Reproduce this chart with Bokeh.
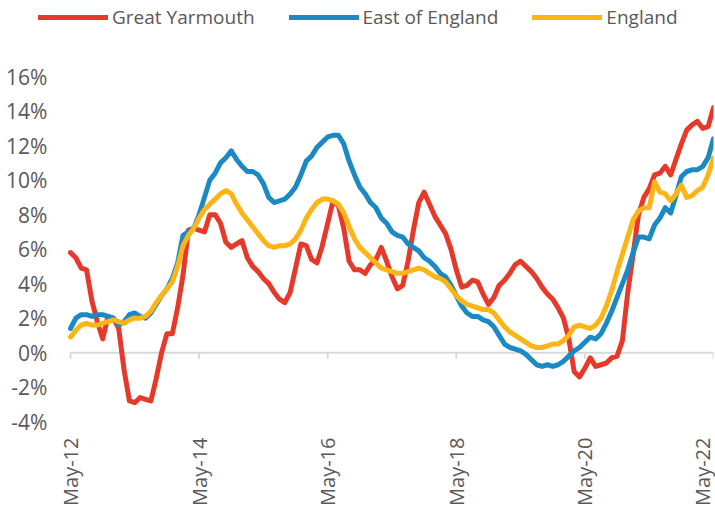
import math
from bokeh.plotting import figure
from bokeh.models import Range1d, FixedTicker, Legend, LegendItem
from bokeh.core.properties import value
from bokeh.embed import file_html
from bokeh.resources import INLINE

# Monthly values, May-12 .. May-22 (annual % change)
great_yarmouth = [
    5.8, 5.5, 4.9, 4.8, 3.0, 1.8, 0.8, 2.1, 2.0, 1.4,
    -1.0, -2.8, -2.9, -2.6, -2.7, -2.8, -1.5, 0.0, 1.1, 1.1,
    2.6, 4.5, 7.1, 7.2, 7.1, 7.0, 8.0, 8.0, 7.5, 6.4,
    6.1, 6.3, 6.5, 5.5, 5.0, 4.7, 4.3, 4.0, 3.5, 3.1,
    2.9, 3.5, 4.9, 6.3, 6.2, 5.4, 5.2, 6.2, 7.5, 8.8,
    8.5, 7.2, 5.3, 4.8, 4.8, 4.6, 5.1, 5.4, 6.1, 5.3,
    4.4, 3.7, 3.9, 5.3, 7.1, 8.7, 9.3, 8.6, 7.9, 7.4,
    6.9, 6.0, 4.8, 3.8, 3.9, 4.2, 4.1, 3.4, 2.8, 3.2,
    3.9, 4.2, 4.6, 5.1, 5.3, 5.0, 4.7, 4.3, 3.8, 3.4,
    3.1, 2.6, 2.0, 0.8, -1.1, -1.4, -0.9, -0.3, -0.8, -0.7,
    -0.6, -0.3, -0.2, 0.7, 3.5, 5.7, 8.0, 9.0, 9.5, 10.3,
    10.4, 10.8, 10.3, 11.2, 12.1, 12.9, 13.2, 13.4, 13.0, 13.1,
    14.2,
]
east_of_england = [
    1.4, 2.0, 2.2, 2.2, 2.1, 2.2, 2.2, 2.1, 2.0, 1.6,
    1.8, 2.2, 2.3, 2.1, 2.0, 2.3, 2.8, 3.3, 3.7, 4.3,
    5.2, 6.8, 7.0, 7.2, 8.0, 9.0, 10.0, 10.4, 11.0, 11.3,
    11.7, 11.2, 10.8, 10.5, 10.5, 10.3, 9.8, 9.0, 8.7, 8.8,
    8.9, 9.2, 9.6, 10.3, 11.1, 11.4, 11.9, 12.2, 12.5, 12.6,
    12.6, 12.1, 11.1, 10.3, 9.6, 9.2, 8.7, 8.4, 7.8, 7.5,
    7.0, 6.8, 6.7, 6.3, 6.1, 5.9, 5.5, 5.3, 5.0, 4.6,
    4.4, 3.9, 3.3, 2.7, 2.3, 2.1, 2.1, 1.9, 1.8, 1.5,
    1.0, 0.5, 0.3, 0.2, 0.1, -0.1, -0.4, -0.7, -0.8, -0.7,
    -0.8, -0.7, -0.5, -0.2, 0.1, 0.3, 0.6, 0.9, 0.8, 1.1,
    1.7, 2.4, 3.2, 4.0, 4.8, 5.8, 6.7, 6.7, 6.6, 7.4,
    7.8, 8.4, 8.1, 9.1, 10.2, 10.5, 10.6, 10.6, 10.8, 11.3,
    12.4,
]
england = [
    0.9, 1.3, 1.6, 1.7, 1.6, 1.6, 1.7, 1.8, 1.9, 1.8,
    1.7, 1.9, 2.0, 2.0, 2.1, 2.4, 2.9, 3.3, 3.7, 4.1,
    5.0, 6.2, 6.8, 7.2, 7.8, 8.3, 8.6, 8.9, 9.2, 9.4,
    9.2, 8.6, 8.1, 7.7, 7.3, 6.9, 6.5, 6.2, 6.1, 6.2,
    6.2, 6.3, 6.6, 7.1, 7.8, 8.3, 8.7, 8.9, 8.9, 8.8,
    8.6, 8.1, 7.3, 6.6, 6.1, 5.8, 5.5, 5.2, 4.9, 4.8,
    4.7, 4.6, 4.6, 4.7, 4.8, 4.9, 4.8, 4.6, 4.4, 4.3,
    4.1, 3.7, 3.3, 3.0, 2.8, 2.7, 2.6, 2.5, 2.5, 2.3,
    1.9, 1.5, 1.2, 1.0, 0.8, 0.6, 0.4, 0.3, 0.3, 0.4,
    0.5, 0.5, 0.7, 1.0, 1.5, 1.6, 1.5, 1.4, 1.6, 2.0,
    2.7, 3.6, 4.7, 5.7, 6.7, 7.7, 8.2, 8.4, 8.4, 9.9,
    9.3, 9.2, 8.8, 9.2, 9.7, 9.0, 9.1, 9.4, 9.6, 10.3,
    11.3,
]
month_index = list(range(len(great_yarmouth)))
series_names = ["Great Yarmouth", "East of England", "England"]
tick_months = [0, 24, 48, 72, 96, 120]
tick_labels = ["May-12", "May-14", "May-16", "May-18", "May-20", "May-22"]
y_ticks = [-4, -2, 0, 2, 4, 6, 8, 10, 12, 14, 16]
y_tick_labels = [f"{t}%" for t in y_ticks]

FONT = "Open Sans"
TXT = "#595959"
AXIS_GREY = "#D9D9D9"
COLORS = ["#E6392A", "#1B8AC4", "#FDB515"]
TICK_LEN = 0.35   # length of the small tick marks below the zero line (data units)
Y_TOP = 20.41     # headroom above 16% that holds the legend
Y_BOTTOM = -4.8   # room below -4% so that its label is not clipped
X_START = -13.06  # left room (in months) that holds the percentage labels and legend

p = figure(width=715, height=513, output_backend="svg", toolbar_location=None,
           x_range=Range1d(X_START, 120), y_range=Range1d(Y_BOTTOM, Y_TOP),
           min_border_left=0, min_border_right=2, min_border_top=0, min_border_bottom=78)
p.outline_line_color = None
p.xgrid.visible = False
p.ygrid.visible = False
p.yaxis.visible = False

# zero line with small ticks
first, last = month_index[0], month_index[-1]
p.line(x=[first, last], y=[0, 0], line_color=AXIS_GREY, line_width=2)
p.segment(x0=tick_months, y0=[0] * len(tick_months), x1=tick_months,
          y1=[-TICK_LEN] * len(tick_months), line_color=AXIS_GREY, line_width=2)

# percentage labels, right-aligned just left of the first month
p.text(x=[first] * len(y_ticks), y=y_ticks, text=y_tick_labels, x_offset=-23,
       text_align="right", text_baseline="middle", text_color=TXT,
       text_font=value(FONT), text_font_size="21px")

renderers = []
for vals, col in zip([great_yarmouth, east_of_england, england], COLORS):
    renderers.append(p.line(month_index, vals, line_color=col, line_width=5,
                            line_join="round", line_cap="round"))

xa = p.xaxis[0]
xa.ticker = FixedTicker(ticks=tick_months)
xa.major_label_overrides = {t: l for t, l in zip(tick_months, tick_labels)}
xa.axis_line_color = None
xa.major_tick_line_color = None
xa.major_tick_out = 0
xa.major_tick_in = 0
xa.minor_tick_line_color = None
xa.major_label_orientation = math.pi / 2
xa.major_label_text_font = FONT
xa.major_label_text_font_size = "20px"
xa.major_label_text_color = TXT
xa.major_label_standoff = 2

legend = Legend(items=[LegendItem(label=n, renderers=[r]) for n, r in zip(series_names, renderers)],
                orientation="horizontal", location=(38, 405),
                label_text_font=FONT, label_text_font_size="19px", label_text_color=TXT,
                glyph_width=70, glyph_height=20, label_standoff=4, spacing=34,
                padding=0, margin=0, border_line_color=None, background_fill_alpha=0)
p.add_layout(legend, "center")

open("out.html", "w").write(file_html(p, INLINE))
